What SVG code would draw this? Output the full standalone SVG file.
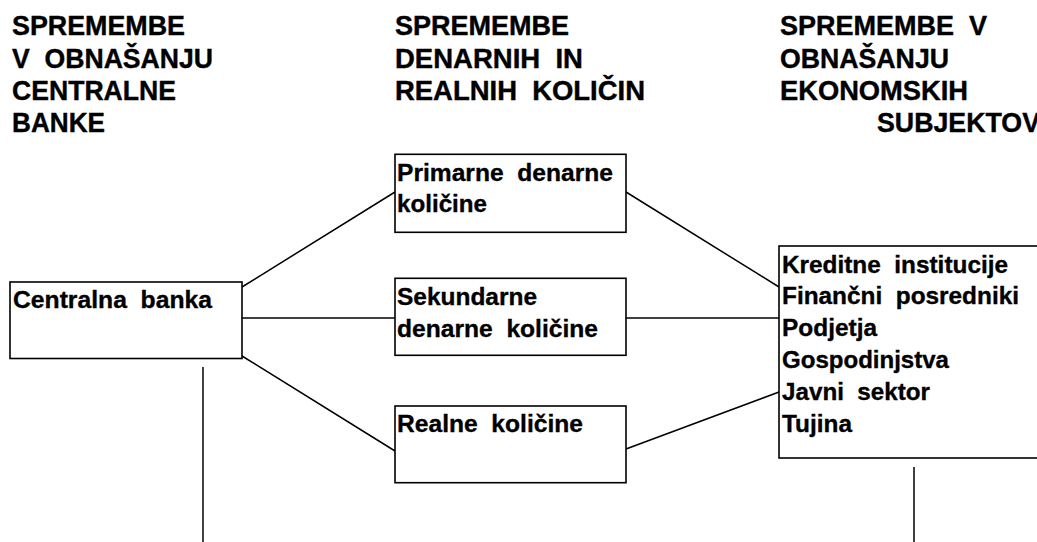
<svg xmlns="http://www.w3.org/2000/svg" width="1037" height="542" viewBox="0 0 1037 542" xml:space="preserve">
<style>
  .h { font-family: "Liberation Sans", Arial, sans-serif; font-weight: bold; font-size: 27px; fill: #000; stroke: #000; stroke-width: 0.4; white-space: pre; }
  .t { font-family: "Liberation Sans", Arial, sans-serif; font-weight: bold; font-size: 24.5px; fill: #000; stroke: #000; stroke-width: 0.35; white-space: pre; }
  .box { fill: #fff; stroke: #000; stroke-width: 1.6; }
  .ln { stroke: #000; stroke-width: 1.5; fill: none; }
</style>
<rect x="0" y="0" width="1037" height="542" fill="#fff"/>
<g id="headers">
  <text class="h" x="12" y="35" textLength="173" lengthAdjust="spacingAndGlyphs">SPREMEMBE</text>
  <text class="h" x="12" y="67.5" textLength="201" lengthAdjust="spacingAndGlyphs">V  OBNAŠANJU</text>
  <text class="h" x="12" y="100" textLength="164" lengthAdjust="spacingAndGlyphs">CENTRALNE</text>
  <text class="h" x="12" y="132" textLength="93" lengthAdjust="spacingAndGlyphs">BANKE</text>
  <text class="h" x="395" y="35" textLength="174" lengthAdjust="spacingAndGlyphs">SPREMEMBE</text>
  <text class="h" x="395" y="67.5" textLength="188" lengthAdjust="spacingAndGlyphs">DENARNIH  IN</text>
  <text class="h" x="395" y="100" textLength="250" lengthAdjust="spacingAndGlyphs">REALNIH  KOLIČIN</text>
  <text class="h" x="780" y="35" textLength="207" lengthAdjust="spacingAndGlyphs">SPREMEMBE  V</text>
  <text class="h" x="780" y="67.5" textLength="169" lengthAdjust="spacingAndGlyphs">OBNAŠANJU</text>
  <text class="h" x="780" y="100" textLength="188" lengthAdjust="spacingAndGlyphs">EKONOMSKIH</text>
  <text class="h" x="877" y="131.5" textLength="163" lengthAdjust="spacingAndGlyphs">SUBJEKTOV</text>
</g>
<g id="connectors">
  <line class="ln" x1="242" y1="287" x2="395" y2="192"/>
  <line class="ln" x1="242" y1="318" x2="395" y2="318"/>
  <line class="ln" x1="242" y1="356" x2="395" y2="451"/>
  <line class="ln" x1="626" y1="192" x2="779" y2="287"/>
  <line class="ln" x1="626" y1="318" x2="779" y2="318"/>
  <line class="ln" x1="626" y1="449" x2="779" y2="392"/>
  <line class="ln" x1="203" y1="367" x2="203" y2="542"/>
  <line class="ln" x1="914" y1="467" x2="914" y2="542"/>
</g>
<g id="centralna-banka">
  <rect class="box" x="10" y="282" width="232" height="76.5"/>
  <text class="t" x="13" y="308.3" textLength="199" lengthAdjust="spacingAndGlyphs">Centralna  banka</text>
</g>
<g id="primarne">
  <rect class="box" x="395" y="154.3" width="231" height="78"/>
  <text class="t" x="397" y="181" textLength="216" lengthAdjust="spacingAndGlyphs">Primarne  denarne</text>
  <text class="t" x="397" y="211.7" textLength="90" lengthAdjust="spacingAndGlyphs">količine</text>
</g>
<g id="sekundarne">
  <rect class="box" x="395" y="278.3" width="231" height="77"/>
  <text class="t" x="397" y="305" textLength="140" lengthAdjust="spacingAndGlyphs">Sekundarne</text>
  <text class="t" x="397" y="336.7" textLength="201" lengthAdjust="spacingAndGlyphs">denarne  količine</text>
</g>
<g id="realne">
  <rect class="box" x="395" y="406" width="231" height="76.7"/>
  <text class="t" x="397" y="431.7" textLength="186" lengthAdjust="spacingAndGlyphs">Realne  količine</text>
</g>
<g id="subjekti">
  <rect class="box" x="779" y="246" width="270" height="212"/>
  <text class="t" x="782" y="273.3" textLength="226" lengthAdjust="spacingAndGlyphs">Kreditne  institucije</text>
  <text class="t" x="782" y="303.8" textLength="237" lengthAdjust="spacingAndGlyphs">Finančni  posredniki</text>
  <text class="t" x="782" y="336" textLength="95" lengthAdjust="spacingAndGlyphs">Podjetja</text>
  <text class="t" x="782" y="368" textLength="167" lengthAdjust="spacingAndGlyphs">Gospodinjstva</text>
  <text class="t" x="782" y="400" textLength="148" lengthAdjust="spacingAndGlyphs">Javni  sektor</text>
  <text class="t" x="782" y="432" textLength="70" lengthAdjust="spacingAndGlyphs">Tujina</text>
</g>
</svg>
